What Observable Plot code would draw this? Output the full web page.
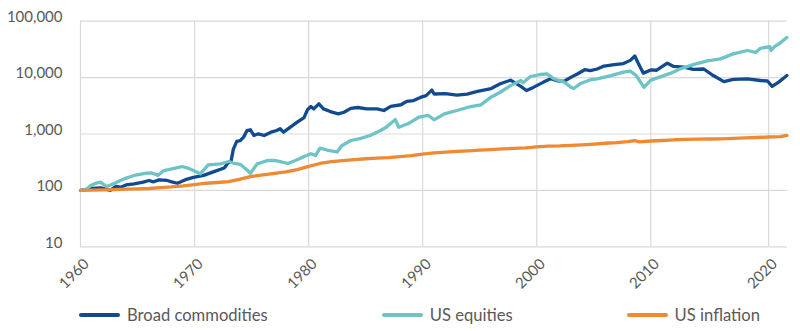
<!DOCTYPE html>
<html><head><meta charset="utf-8">
<script src="https://cdn.jsdelivr.net/npm/d3@7"></script>
<script src="https://cdn.jsdelivr.net/npm/@observablehq/plot@0.6"></script>
<style>
body{margin:0;background:#fff;font-family:Lato,"Noto Sans",sans-serif;}
#chart{width:800px;height:331px;position:relative;overflow:hidden;}
.legend{position:absolute;left:79px;width:681px;top:303px;display:flex;justify-content:space-between;align-items:center;font-size:16.6px;color:#595959;line-height:24px;}
.item{display:flex;align-items:center;}
.sw{width:41px;height:4px;border-radius:2px;margin-right:7px;}
</style></head><body><div id="chart"></div>
<script>
const seriesNames = ["Broad commodities", "US equities", "US inflation"];
const seriesColors = ["#114a8e", "#6ec3c6", "#ee8a33"];
const yTicks = [10, 100, 1000, 10000, 100000];
const xTicks = [1960, 1970, 1980, 1990, 2000, 2010, 2020];

const commodities = [
[1960.0,100],[1960.5,104],[1961.0,108],[1961.75,111],[1962.2,106],[1962.6,100],[1963.1,118],[1963.5,114],
[1964.0,125],[1964.7,131],[1965.5,140],[1966.0,150],[1966.4,142],[1966.9,154],[1967.6,150],[1968.0,142],
[1968.5,134],[1969.2,155],[1969.9,170],[1970.8,185],[1971.7,215],[1972.6,250],[1972.9,300],[1973.2,330],
[1973.4,540],[1973.7,740],[1974.0,760],[1974.3,880],[1974.6,1150],[1974.9,1190],[1975.2,941],[1975.6,1008],
[1976.1,941],[1976.7,1077],[1977.2,1153],[1977.5,1237],[1977.8,1077],[1978.4,1320],[1979.0,1620],[1979.6,1950],
[1979.9,2700],[1980.2,3070],[1980.45,2790],[1980.9,3430],[1981.3,2790],[1981.9,2500],[1982.6,2280],[1983.1,2430],
[1983.7,2850],[1984.3,2950],[1985.1,2800],[1986.0,2800],[1986.6,2610],[1987.2,3100],[1988.1,3300],[1988.6,3800],
[1989.2,3920],[1989.8,4450],[1990.3,4800],[1990.8,6000],[1991.0,5120],[1992.0,5200],[1993.0,4900],[1993.9,5100],
[1994.8,5700],[1996.0,6400],[1996.8,7760],[1997.7,9000],[1998.0,8300],[1998.6,7000],[1999.1,5900],[1999.7,6700],
[2000.6,8320],[2001.2,9530],[2001.8,8800],[2002.4,8600],[2003.1,10400],[2003.6,11700],[2004.2,13800],[2004.7,13300],
[2005.3,14200],[2005.9,16000],[2006.8,17000],[2007.6,17700],[2008.2,20200],[2008.6,24200],[2008.9,18000],[2009.35,12000],
[2010.0,13700],[2010.5,13500],[2011.4,18000],[2011.95,15800],[2012.8,15300],[2013.6,14000],[2014.5,14200],[2015.3,10880],
[2016.2,8500],[2017.0,9300],[2018.2,9530],[2019.3,8880],[2019.9,8700],[2020.3,7000],[2020.85,8320],[2021.55,10880]
];

const equities = [
[1960.0,100],[1960.5,104],[1960.9,122],[1961.4,135],[1961.75,140],[1962.3,117],[1962.9,131],[1963.5,150],
[1964.0,165],[1964.7,184],[1965.3,195],[1965.8,202],[1966.2,205],[1966.8,185],[1967.3,225],[1968.0,240],
[1968.9,265],[1969.5,245],[1969.9,225],[1970.5,197],[1971.2,284],[1972.3,296],[1973.0,325],[1973.5,300],
[1974.0,290],[1974.5,240],[1974.9,202],[1975.5,296],[1976.4,339],[1977.0,339],[1977.5,325],[1978.2,300],
[1979.0,349],[1979.6,400],[1980.2,446],[1980.6,415],[1981.0,560],[1981.6,520],[1982.5,480],[1982.9,620],
[1983.7,767],[1984.5,830],[1985.4,940],[1986.3,1153],[1986.8,1320],[1987.6,1800],[1987.9,1320],[1988.7,1516],
[1989.7,2000],[1990.5,2130],[1991.0,1785],[1991.9,2280],[1993.0,2610],[1994.2,3070],[1995.1,3290],[1995.9,4380],
[1996.8,5500],[1997.7,7200],[1998.6,8880],[1998.8,8100],[1999.45,10460],[2000.3,11350],[2000.9,11680],[2001.5,9530],
[2002.4,8320],[2003.0,6760],[2003.25,6400],[2003.8,7760],[2004.7,9140],[2005.3,9530],[2006.5,10880],[2007.6,12480],
[2008.2,13000],[2008.7,11000],[2009.4,6700],[2010.0,9000],[2010.8,10300],[2011.7,12000],[2012.5,14300],[2013.6,17000],
[2014.8,19800],[2015.9,21450],[2017.0,26300],[2018.2,30250],[2018.9,28000],[2019.3,33000],[2020.1,35500],[2020.2,30250],
[2020.5,35500],[2020.9,40000],[2021.55,51500]
];

const inflation = [
[1960,100],[1961,101],[1962,102],[1963,103],[1964,105],[1965,106],[1966,108],[1967,112],[1968,115],[1969,120],
[1970,127],[1971,134],[1972,138],[1973,143],[1974,158],[1975,177],[1976,189],[1977,200],[1978,213],[1979,233],
[1980,266],[1981,300],[1982,325],[1983,337],[1984,350],[1985,364],[1986,375],[1987,380],[1988,396],[1989,413],
[1990,440],[1991,462],[1992,476],[1993,490],[1994,503],[1995,516],[1996,530],[1997,546],[1998,556],[1999,566],
[2000,590],[2001,608],[2002,614],[2003,628],[2004,642],[2005,662],[2006,686],[2007,702],[2008,730],[2008.6,762],
[2009.0,728],[2010,752],[2011,767],[2012,790],[2013,800],[2014,812],[2015,815],[2016,822],[2017,838],[2018,856],
[2019,866],[2020,885],[2021,900],[2021.55,948]
];

const rows = [];
[commodities, equities, inflation].forEach((s, i) =>
  s.forEach(([t, v]) => rows.push({series: seriesNames[i], t, v})));

const plot = Plot.plot({
  width: 800, height: 292,
  marginLeft: 80, marginRight: 13, marginTop: 21, marginBottom: 46,
  style: {fontFamily: "Lato, 'Noto Sans', sans-serif", fontSize: "15px", color: "#595959", background: "#fff"},
  x: {type: "linear", domain: [1960, 2010, 2021.6], range: [80, 650.3, 787], axis: null},
  y: {type: "log", domain: [10, 100000], range: [246.3, 20.7], axis: null},
  color: {domain: seriesNames, range: seriesColors},
  marks: [
    Plot.ruleY(yTicks, {stroke: "#d9d9d9", strokeWidth: 1.2}),
    Plot.ruleX(xTicks, {stroke: "#d9d9d9", strokeWidth: 1.2, y1: 10, y2: 100000}),
    Plot.line(rows, {x: "t", y: "v", z: "series", stroke: "series", strokeWidth: 3.3, strokeLinejoin: "round", strokeLinecap: "round"}),
    Plot.text(yTicks, {y: d => d, frameAnchor: "left", text: d => d3.format(",")(d), textAnchor: "end", dx: -18, dy: -4, fill: "#595959", fontSize: 15}),
    Plot.text(xTicks, {x: d => d, frameAnchor: "bottom", text: d => String(d), rotate: -45, textAnchor: "end", lineAnchor: "middle", dx: 6, dy: 15, fill: "#595959", fontSize: 15})
  ]
});

const chart = document.getElementById("chart");
chart.appendChild(plot);
const legend = document.createElement("div");
legend.className = "legend";
seriesNames.forEach((n, i) => {
  const it = document.createElement("div");
  it.className = "item";
  it.innerHTML = `<span class="sw" style="background:${seriesColors[i]}"></span><span>${n}</span>`;
  legend.appendChild(it);
});
chart.appendChild(legend);
</script></body></html>
